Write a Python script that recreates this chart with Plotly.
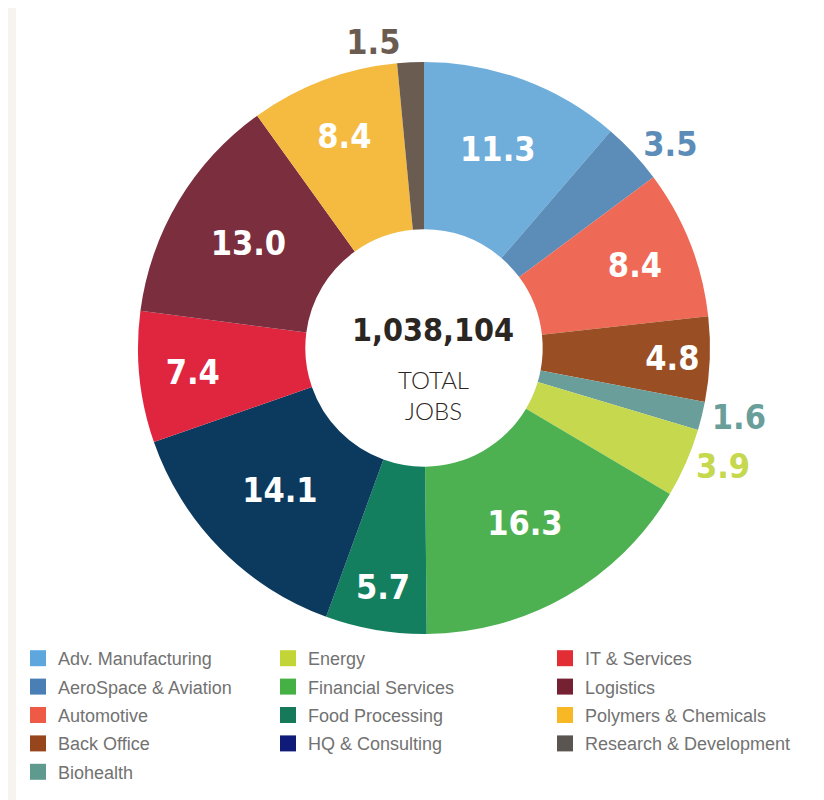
import plotly.graph_objects as go

categories = ["Adv. Manufacturing", "AeroSpace & Aviation", "Automotive", "Back Office",
              "Biohealth", "Energy", "Financial Services", "Food Processing",
              "HQ & Consulting", "IT & Services", "Logistics", "Polymers & Chemicals",
              "Research & Development"]
values = [11.3, 3.5, 8.4, 4.8, 1.6, 3.9, 16.3, 5.7, 14.1, 7.4, 13.0, 8.4, 1.5]
colors = ["#6FAEDB", "#5B8DB8", "#EE6A57", "#9A4E23", "#6A9E9A", "#C5D84E", "#4DB152",
          "#147F5E", "#0B3A5E", "#E0253F", "#7A2E3E", "#F5BB41", "#6B5C52"]
legend_colors = ["#5DA6DE", "#4A7FB5", "#EE5A45", "#96451C", "#5E9A8E", "#C3D437", "#45B043",
                 "#16795A", "#0E1B78", "#E32D35", "#752132", "#F8B826", "#5B5552"]
label_pos = ["inside", "outside", "inside", "inside", "outside", "outside", "inside",
             "inside", "inside", "inside", "inside", "inside", "outside"]
legend_columns = [0, 0, 0, 0, 0, 1, 1, 1, 1, 2, 2, 2, 2]
total_jobs = "1,038,104"

W, H = 824, 800
cx, cy, R = 416, 340, 286
NUM_FONT = "DejaVu Sans Condensed"

text_colors = ["white" if p == "inside" else c for p, c in zip(label_pos, colors)]

fig = go.Figure()
fig.add_trace(go.Pie(
    labels=categories, values=values, sort=False, direction="clockwise", rotation=0,
    hole=0.415, marker=dict(colors=colors, line=dict(width=0)),
    texttemplate="%{value:.1f}", textposition=label_pos,
    insidetextorientation="horizontal",
    textfont=dict(family=NUM_FONT, size=34, weight="bold", color=text_colors),
    insidetextfont=dict(family=NUM_FONT, size=34, weight="bold", color="white"),
    outsidetextfont=dict(family=NUM_FONT, size=34, weight="bold", color=text_colors),
    showlegend=False, hoverinfo="label+value",
    domain=dict(x=[(cx - R) / W, (cx + R) / W], y=[(H - cy - R) / H, (H - cy + R) / H]),
))

legend_names = ["legend", "legend2", "legend3"]
for i, (cat, col) in enumerate(zip(categories, legend_colors)):
    fig.add_trace(go.Scatter(
        x=[None], y=[None], mode="markers", name=cat,
        marker=dict(symbol="square", size=16, color=col),
        legend=legend_names[legend_columns[i]], legendgroup=cat, showlegend=True,
    ))

leg_common = dict(font=dict(family="Liberation Sans", size=18, color="#727272"),
                  bgcolor="rgba(0,0,0,0)", tracegroupgap=2, itemsizing="trace",
                  xanchor="left", yanchor="top", orientation="v")
lx = [10 / W, 260 / W, 537 / W]
ly = 1 - 632 / H
fig.update_layout(
    legend=dict(x=lx[0], y=ly, **leg_common),
    legend2=dict(x=lx[1], y=ly, **leg_common),
    legend3=dict(x=lx[2], y=ly, **leg_common),
)

fig.add_annotation(x=425 / W, y=1 - 322 / H, xref="paper", yref="paper", text=total_jobs,
                   showarrow=False, font=dict(family=NUM_FONT, size=32, weight="bold", color="#2B2622"))
fig.add_annotation(x=425 / W, y=1 - 387 / H, xref="paper", yref="paper", text="TOTAL<br>JOBS",
                   showarrow=False, font=dict(family="Lato", size=24, weight=300, color="#2B2622"))

fig.add_shape(type="rect", xref="paper", yref="paper", x0=0, x1=8 / W, y0=0, y1=1,
              fillcolor="#F7F3EF", line=dict(width=0), layer="below")

fig.update_layout(
    width=W, height=H, margin=dict(l=0, r=0, t=0, b=0),
    paper_bgcolor="white", plot_bgcolor="white",
    xaxis=dict(visible=False), yaxis=dict(visible=False),
)
fig.write_html("out.html")
